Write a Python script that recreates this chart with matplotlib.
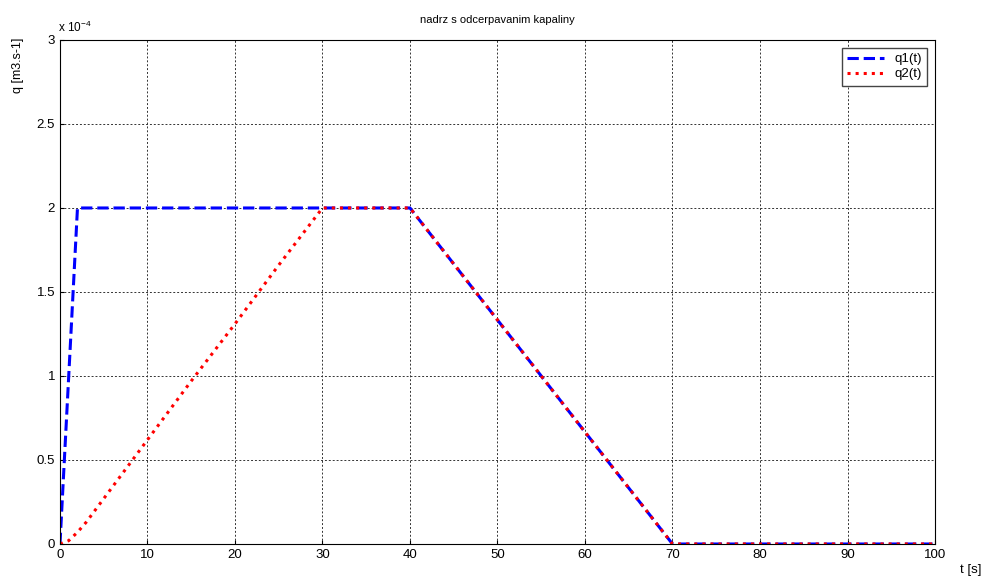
import numpy as np
import matplotlib.pyplot as plt

t1 = [0, 2, 40, 70, 100]
q1 = [0, 2.0e-4, 2.0e-4, 0, 0]

t2 = [0, 1, 2, 3, 4, 5, 6, 8, 10, 15, 20, 25, 30, 40, 70, 100]
q2 = [0, 0.02e-4, 0.07e-4, 0.13e-4, 0.2e-4, 0.27e-4, 0.34e-4, 0.48e-4,
      0.62e-4, 0.97e-4, 1.31e-4, 1.66e-4, 2.0e-4, 2.0e-4, 0, 0]

plt.rcParams['font.family'] = ['Liberation Sans', 'DejaVu Sans']
plt.rcParams['font.size'] = 9
plt.rcParams['mathtext.default'] = 'regular'

fig = plt.figure(figsize=(9.93, 5.81), dpi=100)
ax = fig.add_axes([0.0604, 0.0637, 0.8812, 0.8675])

ax.plot(t1, q1, 'b--', linewidth=2.2, label='q1(t)')
ax.plot(t2, q2, 'r:', linewidth=2.2, label='q2(t)')

ax.set_xlim(0, 100)
ax.set_ylim(0, 3e-4)
ax.set_xticks(np.arange(0, 101, 10))
ax.set_yticks(np.arange(0, 3.01e-4, 0.5e-4))
ax.set_yticklabels(['0', '0.5', '1', '1.5', '2', '2.5', '3'])
ax.grid(True, color='#333333', linestyle=(0, (2, 2)), linewidth=0.7)
ax.tick_params(direction='in', length=3, labelsize=9.5)
for s in ax.spines.values():
    s.set_linewidth(0.8)

fig.text(0.058, 0.945, r'x 10$^{-4}$', fontsize=8.5)
ax.set_title('nadrz s odcerpavanim kapaliny', fontsize=8, pad=12)
fig.text(0.012, 0.935, 'q [m3.s-1]', rotation=90, va='top', fontsize=9)
fig.text(0.988, 0.008, 't [s]', ha='right', va='bottom', fontsize=9.5)

ax.legend(loc='upper right', fancybox=False, edgecolor='#444444', framealpha=1,
          handlelength=2.8, borderaxespad=0.6, fontsize=9.5, labelspacing=0.2)

plt.savefig('out.png', dpi=100)
